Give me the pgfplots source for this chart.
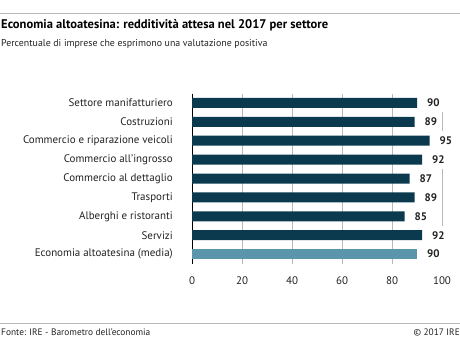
\documentclass[border=0pt]{standalone}
\usepackage{fontspec}
\setmainfont{PT Sans}
\usepackage{pgfplots}
\pgfplotsset{compat=1.18}
\definecolor{dark}{HTML}{0B3A4E}
\definecolor{light}{HTML}{5B95AB}
\definecolor{gridc}{HTML}{B8B8B8}
\definecolor{txt}{HTML}{222222}
\begin{document}
\begin{tikzpicture}
\useasboundingbox (0,0) rectangle (460bp,-340bp);
\draw[gridc, line width=0.8bp] (0,-13bp) -- (460bp,-13bp);
\node[anchor=west, inner sep=0pt, text=black, font=\fontsize{12.6}{14}\selectfont\bfseries] at (1bp,-25bp) {Economia altoatesina: redditività attesa nel 2017 per settore};
\node[anchor=west, inner sep=0pt, text=txt, font=\fontsize{9.9}{11}\selectfont] at (1bp,-44bp) {Percentuale di imprese che esprimono una valutazione positiva};
\draw[gridc, line width=0.8bp] (0,-323bp) -- (460bp,-323bp);
\node[anchor=west, inner sep=0pt, text=txt, font=\fontsize{9.4}{11}\selectfont] at (1bp,-332bp) {Fonte: IRE - Barometro dell'economia};
\node[anchor=east, inner sep=0pt, text=txt, font=\fontsize{9.4}{11}\selectfont] at (460bp,-332bp) {© 2017 IRE};
\begin{axis}[
  at={(192bp,-263.5bp)}, anchor=south west,
  scale only axis, width=250bp, height=170bp,
  xmin=0, xmax=100, ymin=-0.5, ymax=8.5, y dir=reverse,
  xbar, bar width=10bp, bar shift=0pt,
  axis y line*=left, axis x line*=bottom,
  x axis line style={draw=none},
  y axis line style={draw=black, line width=0.8bp},
  xmajorgrids, grid style={gridc, line width=0.8bp},
  xtick={0,20,40,60,80,100},
  ytick={0,1,2,3,4,5,6,7,8},
  yticklabels={Settore manifatturiero,Costruzioni,Commercio e riparazione veicoli,Commercio all'ingrosso,Commercio al dettaglio,Trasporti,Alberghi e ristoranti,Servizi,Economia altoatesina (media)},
  major tick length=0pt,
  /pgf/number format/assume math mode=true,
  xticklabel style={anchor=center, inner sep=0pt, yshift=-17.5bp, text=txt, font=\fontsize{11}{12}\selectfont},
  yticklabel style={anchor=east, inner sep=0pt, xshift=-19bp, text=txt, font=\fontsize{11}{12}\selectfont},
  nodes near coords,
  nodes near coords style={anchor=west, xshift=6bp, fill=white, inner xsep=4bp, inner ysep=0pt, minimum height=19bp, text=txt, font=\fontsize{11}{12}\selectfont\bfseries},
  clip=false,
]
\addplot[fill=dark, draw=none] coordinates {(90,0) (89,1) (95,2) (92,3) (87,4) (89,5) (85,6) (92,7)};
\addplot[fill=light, draw=none] coordinates {(90,8)};
\end{axis}
\end{tikzpicture}
\end{document}
